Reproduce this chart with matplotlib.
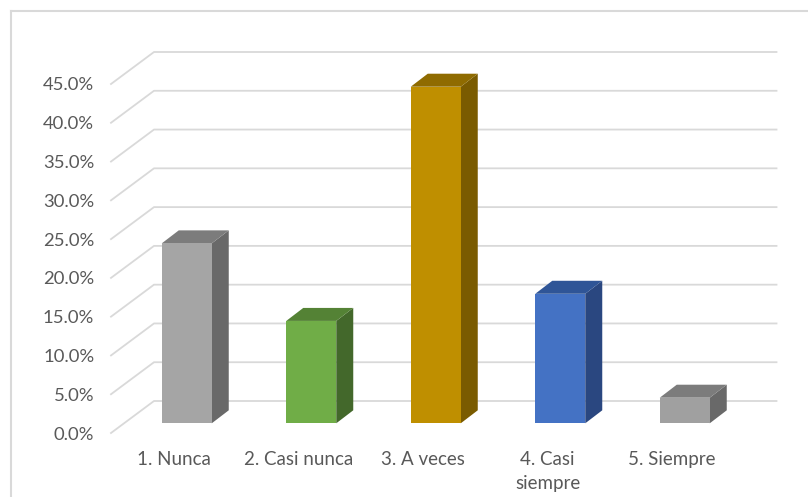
import numpy as np
import matplotlib
matplotlib.use('Agg')
import matplotlib.pyplot as plt
from matplotlib.patches import Polygon

categories = ['1. Nunca', '2. Casi nunca', '3. A veces', '4. Casi\nsiempre', '5. Siempre']
values = [23.2, 13.2, 43.4, 16.7, 3.3]
y_ticks = [0, 5, 10, 15, 20, 25, 30, 35, 40, 45]

front_colors = ['#A5A5A5', '#70AD47', '#BF8F00', '#4472C4', '#A0A0A0']
side_colors = ['#696969', '#43682B', '#7A5B00', '#2A4780', '#696969']
top_colors = ['#7C7C7C', '#548235', '#8F6B00', '#2F5597', '#7C7C7C']

W, H = 808, 497
plt.rcParams['font.family'] = ['Lato', 'DejaVu Sans']

fig = plt.figure(figsize=(W / 100, H / 100), dpi=100)
# front plane of the 3d box, in pixels: x 111-733.5, y 84-433
ax = fig.add_axes([111 / W, 1 - 433 / H, 622.5 / W, 349 / H])
ax.set_xlim(0, 5)
ax.set_ylim(0, 45)
for s in ax.spines.values():
    s.set_visible(False)
ax.patch.set_alpha(0)

px_x = 5 / 622.5
px_y = 45 / 349.0

# wall gridlines
wall_dx, wall_dy = 43 * px_x, 32 * px_y
for t in y_ticks:
    ax.plot([0, wall_dx, 5 + wall_dx], [t, t + wall_dy, t + wall_dy],
            color='#D9D9D9', lw=1.3, clip_on=False, zorder=1)

# bars sit a bit inside the box
bar_w = 50 * px_x
shift_x, shift_y = 13.5 * px_x, 9.7 * px_y
depth_x, depth_y = 17 * px_x, 13 * px_y
for i, v in enumerate(values):
    x0 = i + 0.5 + shift_x - bar_w / 2
    x1 = x0 + bar_w
    y0 = shift_y
    y1 = v + shift_y
    front = [(x0, y0), (x1, y0), (x1, y1), (x0, y1)]
    side = [(x1, y0), (x1 + depth_x, y0 + depth_y), (x1 + depth_x, y1 + depth_y), (x1, y1)]
    top = [(x0, y1), (x1, y1), (x1 + depth_x, y1 + depth_y), (x0 + depth_x, y1 + depth_y)]
    ax.add_patch(Polygon(side, fc=side_colors[i], ec='none', clip_on=False, zorder=3))
    ax.add_patch(Polygon(top, fc=top_colors[i], ec='none', clip_on=False, zorder=3))
    ax.add_patch(Polygon(front, fc=front_colors[i], ec='none', clip_on=False, zorder=4))

ax.set_yticks(y_ticks)
ax.set_yticklabels(['{:.1f}%'.format(t) for t in y_ticks])
ax.set_xticks(np.arange(5) + 0.5 + px_x)
ax.set_xticklabels(categories, linespacing=1.5)
ax.tick_params(axis='y', length=0, pad=12, labelsize=13.3, labelcolor='#595959')
ax.tick_params(axis='x', length=0, pad=13, labelsize=13.5, labelcolor='#595959')

# chart frame, only top and left show in the crop
fig.add_artist(plt.Line2D([10.5 / W, 10.5 / W], [0, 1 - 10.5 / H], color='#D9D9D9', lw=1.5))
fig.add_artist(plt.Line2D([10.5 / W, 1], [1 - 10.5 / H, 1 - 10.5 / H], color='#D9D9D9', lw=1.5))

fig.savefig('out.png', dpi=100)
